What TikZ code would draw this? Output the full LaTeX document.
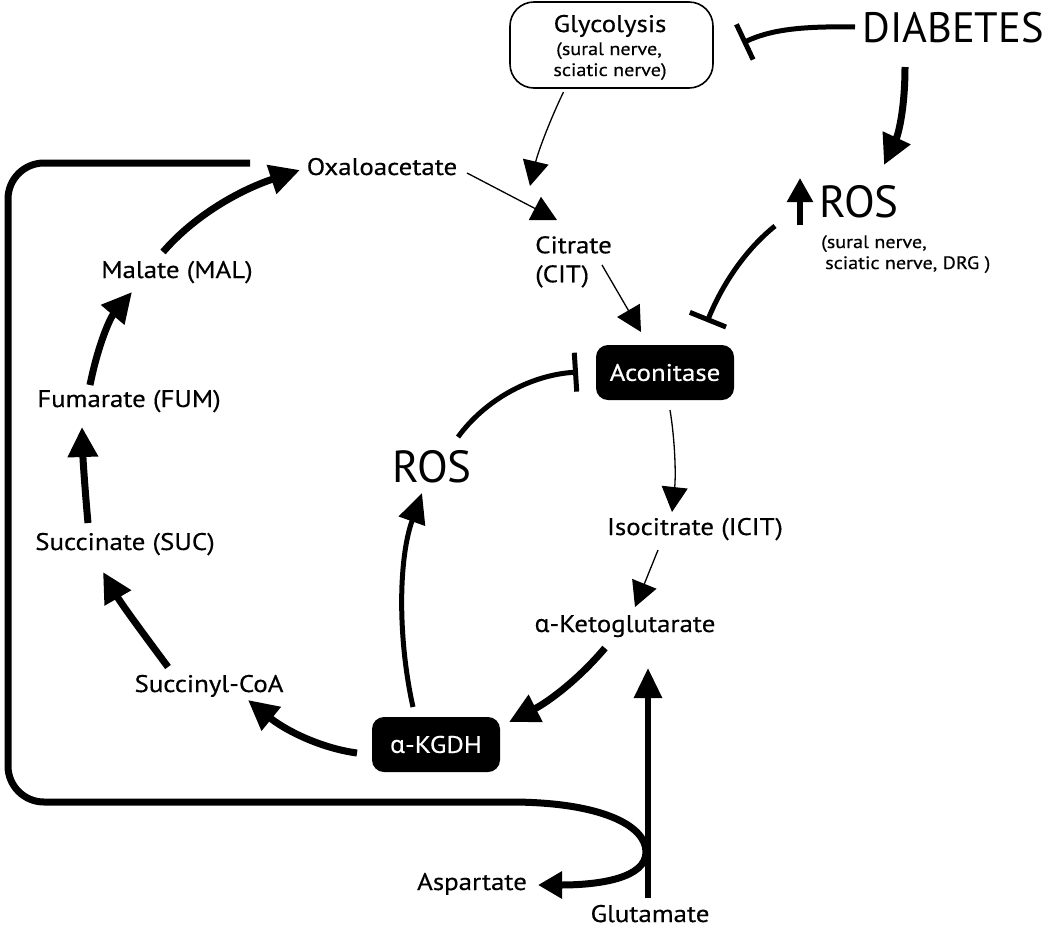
\documentclass[tikz,border=0pt]{standalone}
\usepackage{fontspec}
\setmainfont{PT Sans}[FakeStretch=1.12, FakeBold=0.4]
\newfontfamily\bigfont{PT Sans}
\newfontfamily\grk{Noto Sans}[FakeBold=0.3]
\usetikzlibrary{arrows.meta}
\newcommand{\alp}{{\grk α}}
\tikzset{
  lbl/.style={inner sep=0pt, anchor=base, font=\fontsize{24}{29}\selectfont},
  big/.style={inner sep=0pt, font=\bigfont\fontsize{45}{50}\selectfont},
  small/.style={inner sep=0pt, anchor=base, font=\fontsize{18}{20}\selectfont},
  enz/.style={fill=black, rounded corners=12pt, text=white, inner sep=0pt, font=\fontsize{24}{29}\selectfont},
  thickarr/.style={line width=7pt, -{Triangle[length=30pt,width=29pt]}},
  midarr/.style={line width=5pt, -{Triangle[length=30pt,width=27pt]}},
  thinarr/.style={line width=1.3pt, -{Triangle[length=25pt,width=26pt]}},
  inhib/.style={line width=5pt, -{Bar[width=39pt]}},
}
\begin{document}
\begin{tikzpicture}[x=1pt,y=-1pt]
\useasboundingbox (0,0) rectangle (1050,927);
% nodes
\node[draw, line width=1.6pt, rounded corners=24pt, minimum width=203pt, minimum height=86pt, inner sep=0pt] (gly) at (611.5,45) {};
\node[lbl] (glyt) at (610,32) {Glycolysis};
\node[small] (glys1) at (609,55) {(sural nerve,};
\node[small] (glys2) at (610,76) {sciatic nerve)};
\node[big, font=\bigfont\fontsize{42.5}{48}\selectfont] (diab) at (953,28) {DIABETES};
\node[big] (rosr) at (859,202) {ROS};
\node[small, anchor=base west] (rossub1) at (821,248) {(sural nerve,};
\node[small, anchor=base west] (rossub2) at (825,269) {sciatic nerve, DRG )};
\node[lbl] (oxa) at (382,175) {Oxaloacetate};
\node[inner sep=0pt, anchor=north west, align=left, font=\fontsize{24}{29}\selectfont] (cit) at (535,236) {Citrate\\(CIT)};
\node[enz, minimum width=138pt, minimum height=55pt] (acon) at (665,372.5) {Aconitase};
\node[lbl] (icit) at (695,535) {Isocitrate (ICIT)};
\node[lbl] (akg) at (625,632) {\alp-Ketoglutarate};
\node[enz, minimum width=128pt, minimum height=55pt] (kgdh) at (436,744.5) {\alp-KGDH};
\node[lbl] (mal) at (177,278) {Malate (MAL)};
\node[lbl] (fum) at (129,407) {Fumarate (FUM)};
\node[lbl] (suc) at (125,550) {Succinate (SUC)};
\node[lbl] (sca) at (209,692) {Succinyl-CoA};
\node[big] (rosm) at (432,467) {ROS};
\node[lbl] (asp) at (472,890) {Aspartate};
\node[lbl] (glu) at (650,922) {Glutamate};
% up arrow by ROS
\draw[line width=5.5pt, -{Triangle[length=24pt,width=25pt]}] ([shift={(-59,23)}]rosr.center) -- ([shift={(-59,-24)}]rosr.center);
% connectors
\draw[inhib] ([shift={(-98,-1)}]diab.center) .. controls (800,26) and (770,30) .. ([shift={(131,-2)}]gly.center);
\draw[thickarr] ([shift={(-48,39)}]diab.center) .. controls (905,110) and (898,135) .. ([shift={(25,-37)}]rosr.center);
\draw[thinarr] ([shift={(-48,47)}]gly.center) .. controls (550,120) and (538,152) .. ([shift={(-5,-50)}]cit.north west);
\draw[thinarr] ([shift={(85,-2)}]oxa.base) -- ([shift={(22,-16)}]cit.north west);
\draw[thinarr] ([shift={(67,29)}]cit.north west) -- ([shift={(-24,-40.5)}]acon.center);
\draw[inhib] ([shift={(-84,24)}]rosr.center) .. controls (745,250) and (722,285) .. ([shift={(42,-50.5)}]acon.center);
\draw[thinarr] ([shift={(5,37.5)}]acon.center) .. controls (675,440) and (676,475) .. ([shift={(-23,-23)}]icit.base);
\draw[thinarr] ([shift={(-37,15)}]icit.base) -- ([shift={(10,-25)}]akg.base);
\draw[thickarr] ([shift={(-20,16)}]akg.base) .. controls (578,680) and (548,702) .. ([shift={(73,-22.5)}]kgdh.center);
\draw[thickarr] ([shift={(-79,8.5)}]kgdh.center) .. controls (320,748) and (285,730) .. ([shift={(39,8)}]sca.base);
\draw[thickarr] ([shift={(-41,-25)}]sca.base) .. controls (148,640) and (122,605) .. ([shift={(-22,22)}]suc.base);
\draw[thickarr] ([shift={(-37,-27)}]suc.base) .. controls (85,490) and (83,460) .. ([shift={(-47,20)}]fum.base);
\draw[thickarr] ([shift={(-39,-22)}]fum.base) .. controls (98,345) and (110,318) .. ([shift={(-45,14)}]mal.base);
\draw[thickarr] ([shift={(-14,-26)}]mal.base) .. controls (195,215) and (240,190) .. ([shift={(-82,-5)}]oxa.base);
\draw[midarr] ([shift={(-23,-37.5)}]kgdh.center) .. controls (398,640) and (398,560) .. ([shift={(-10,26)}]rosm.center);
\draw[inhib] ([shift={(26,-30)}]rosm.center) .. controls (485,400) and (530,375) .. ([shift={(-87,-0.5)}]acon.center);
\draw[line width=6pt, -{Triangle[length=30pt,width=27pt]}] ([shift={(-2,-24)}]glu.base) -- ([shift={(23,36)}]akg.base);
\draw[line width=7pt, rounded corners=36pt, -{Triangle[length=24pt,width=26pt]}]
  ([shift={(-132,-12)}]oxa.base) -- (8,163) -- (8,802) [sharp corners] -- (510,802)
  .. controls (600,802) and (646,825) .. (646,852)
  .. controls (646,878) and (600,885) .. ([shift={(66,-5)}]asp.base);
\end{tikzpicture}
\end{document}
